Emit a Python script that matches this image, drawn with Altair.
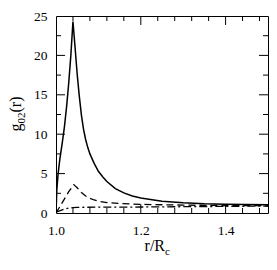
import altair as alt
import pandas as pd

# ---- data ----
r_solid = [1.000, 1.002, 1.005, 1.009, 1.015, 1.020, 1.025, 1.030, 1.035, 1.040,
           1.045, 1.050, 1.055, 1.060, 1.065, 1.070, 1.075, 1.080, 1.090, 1.100,
           1.110, 1.120, 1.140, 1.160, 1.180, 1.200, 1.250, 1.300, 1.350, 1.400,
           1.450, 1.500]
g_solid = [0.0, 3.0, 5.0, 6.8, 9.0, 11.0, 13.5, 16.5, 20.0, 24.3,
           21.0, 17.6, 14.8, 12.4, 10.6, 9.3, 8.3, 7.5, 6.3, 5.3,
           4.6, 4.0, 3.1, 2.55, 2.15, 1.9, 1.5, 1.3, 1.18, 1.12,
           1.07, 1.04]

r_dash = [1.000, 1.010, 1.020, 1.030, 1.042, 1.050, 1.060, 1.070, 1.080, 1.090,
          1.100, 1.120, 1.150, 1.200, 1.300, 1.400, 1.500]
g_dash = [0.0, 0.9, 1.8, 2.7, 3.6, 3.2, 2.6, 2.15, 1.85, 1.65,
          1.5, 1.33, 1.2, 1.1, 1.0, 0.95, 0.92]

r_dashdot = [1.000, 1.010, 1.020, 1.030, 1.040, 1.050, 1.100, 1.200, 1.300, 1.400, 1.500]
g_dashdot = [0.1, 0.3, 0.5, 0.62, 0.68, 0.72, 0.74, 0.76, 0.8, 0.84, 0.88]

x_labels = [1.0, 1.2, 1.4]
y_labels = [0, 5, 10, 15, 20, 25]
x_major = [1.2, 1.4]
x_minor = [1.04, 1.08, 1.12, 1.16, 1.24, 1.28, 1.32, 1.36, 1.44, 1.48]
y_major = [5, 10, 15, 20]
y_minor = [2.5, 7.5, 12.5, 17.5, 22.5]

W, H = 212, 197
FONT = "Liberation Serif"
MAJ, MIN = 9, 5

xs = alt.Scale(domain=[1.0, 1.5], nice=False)
ys = alt.Scale(domain=[0, 25], nice=False)

ax_x = alt.Axis(values=x_labels, format=".1f", ticks=False, domain=False, grid=False,
                labelFont=FONT, labelFontSize=13.5, labelColor="black",
                labelPadding=10, labelFlush=False, labelOverlap=False, title=None)
ax_y = alt.Axis(values=y_labels, format="d", ticks=False, domain=False, grid=False,
                labelFont=FONT, labelFontSize=13.5, labelColor="black",
                labelPadding=9, labelFlush=False, labelOverlap=False, title=None)

def line(rv, gv, dash=None, width=1.3):
    df = pd.DataFrame({"r": rv, "g": gv})
    kw = dict(color="black", strokeWidth=width, clip=True)
    if dash:
        kw["strokeDash"] = dash
    return alt.Chart(df).mark_line(**kw).encode(
        x=alt.X("r:Q", scale=xs, axis=ax_x),
        y=alt.Y("g:Q", scale=ys, axis=ax_y),
    )

def xticks(vals, length):
    df = pd.DataFrame({"r": vals})
    top = alt.Chart(df).mark_rule(color="black", strokeWidth=1).encode(
        x=alt.X("r:Q", scale=xs, axis=ax_x), y=alt.value(0), y2=alt.value(length))
    bot = alt.Chart(df).mark_rule(color="black", strokeWidth=1).encode(
        x=alt.X("r:Q", scale=xs, axis=ax_x), y=alt.value(H), y2=alt.value(H - length))
    return [top, bot]

def yticks(vals, length):
    df = pd.DataFrame({"g": vals})
    left = alt.Chart(df).mark_rule(color="black", strokeWidth=1).encode(
        y=alt.Y("g:Q", scale=ys, axis=ax_y), x=alt.value(0), x2=alt.value(length))
    right = alt.Chart(df).mark_rule(color="black", strokeWidth=1).encode(
        y=alt.Y("g:Q", scale=ys, axis=ax_y), x=alt.value(W), x2=alt.value(W - length))
    return [left, right]

def txt(s, x, y, size, angle=0, align="left"):
    return alt.Chart(pd.DataFrame({"t": [s]})).mark_text(
        font=FONT, fontSize=size, fill="black", align=align, baseline="alphabetic",
        angle=angle).encode(text="t:N", x=alt.value(x), y=alt.value(y))

cx = W / 2 + 3
titles = [
    txt("r/R", cx, H + 38, 16, align="right"),
    txt("c", cx, H + 42, 11),
    txt("g", -35, H / 2 + 17, 16, angle=270),
    txt("02", -31, H / 2 + 9, 11, angle=270),
    txt("(r)", -35, H / 2 - 2, 16, angle=270),
]

layers = [line(r_solid, g_solid, width=1.5),
          line(r_dash, g_dash, [7, 4]),
          line(r_dashdot, g_dashdot, [8, 3, 2, 3])]
layers += xticks(x_major, MAJ) + xticks(x_minor, MIN)
layers += yticks(y_major, MAJ) + yticks(y_minor, MIN)
layers += titles

chart = alt.layer(*layers).properties(
    width=W, height=H,
    autosize=alt.AutoSizeParams(type="none"),
    padding={"left": 48, "top": 8, "right": 1, "bottom": 43},
).configure_view(stroke="black", strokeWidth=1)

chart.save("out.html", embed_options={"renderer": "svg", "actions": False})
